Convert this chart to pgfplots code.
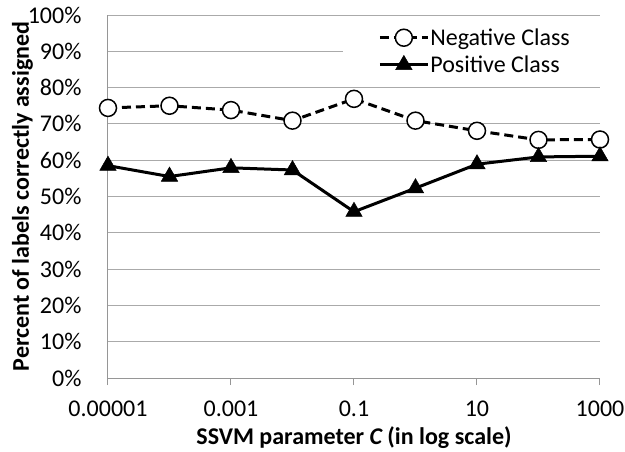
\documentclass[border=0pt]{standalone}
\usepackage{pgfplots}
\pgfplotsset{compat=1.18}
\usepackage{fontspec}
\setmainfont{Carlito}
\definecolor{gridgray}{RGB}{170,170,170}
\definecolor{axisgray}{RGB}{150,150,150}
\begin{document}
\begin{tikzpicture}
\useasboundingbox (-108pt,-73pt) rectangle (517pt,378pt);
\begin{axis}[
  scale only axis, width=492pt, height=363pt,
  at={(0,0)}, anchor=south west,
  xmode=log, xmin=1e-5, xmax=1000, ymin=0, ymax=100,
  axis x line*=bottom, axis y line*=left,
  axis line style={draw=axisgray, line width=1pt, -},
  ymajorgrids, grid style={draw=gridgray, line width=1pt},
  xtick={1e-5,1e-3,1e-1,10,1000},
  xticklabels={0.00001,0.001,0.1,10,1000},
  xminorticks=false,
  ytick={0,10,...,100},
  yticklabel={\pgfmathprintnumber{\tick}\%},
  ytick style={draw=none},
  xtick style={draw=axisgray, line width=1pt},
  tick align=outside, major tick length=7pt,
  /pgf/number format/assume math mode=true,
  ticklabel style={font=\fontsize{24}{28}\selectfont},
  xticklabel style={yshift=-12pt},
  yticklabel style={xshift=-16pt},
  label style={font=\bfseries\fontsize{24}{28}\selectfont},
  xlabel={SSVM parameter {\itshape C} (in log scale)},
  ylabel={Percent of labels correctly assigned},
  xlabel style={yshift=-4pt},
  ylabel style={yshift=-12pt},
  legend style={at={(0.478,0.9)}, anchor=west, draw=none, fill=white,
    font=\fontsize{24}{28}\selectfont, inner xsep=35pt, inner ysep=2pt,
    nodes={inner xsep=1pt}, row sep=5pt},
  legend cell align=left,
  legend image code/.code={\draw[mark repeat=2,mark phase=2,#1] plot coordinates {(0pt,0pt) (24pt,0pt) (48pt,0pt)};},
]
\addplot[black, line width=3pt, dash pattern=on 9pt off 5pt,
  mark=*, mark size=8.5pt, mark options={solid, fill=white, draw=black, line width=1.5pt}]
  coordinates {(1e-5,74.4) (1e-4,75.0) (1e-3,73.8) (1e-2,70.9) (1e-1,76.9) (1,70.9) (10,68.1) (100,65.6) (1000,65.7)};
\addlegendentry{Negative Class}
\addplot[black, line width=3pt,
  mark=triangle*, mark size=9.5pt, mark options={solid, fill=black, draw=black, line width=0.5pt}]
  coordinates {(1e-5,58.5) (1e-4,55.5) (1e-3,57.9) (1e-2,57.3) (1e-1,45.8) (1,52.3) (10,58.9) (100,60.9) (1000,61.1)};
\addlegendentry{Positive Class}
\end{axis}
\end{tikzpicture}
\end{document}
